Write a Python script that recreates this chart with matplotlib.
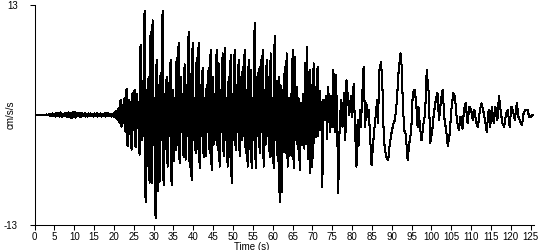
import numpy as np
import matplotlib
matplotlib.use("Agg")
import matplotlib.pyplot as plt

plt.rcParams['font.family'] = ['Liberation Sans', 'DejaVu Sans']

# acceleration trace
# part 1: turning points every 0.252 s from t = 0 (quiet part + strong shaking)
step_t = 0.252
acc_quiet = [0.03, -0.03, 0.04, -0.03, 0.03, -0.04, 0.03, -0.03, 0.04, -0.04, 0.05, -0.04, 0.06, -0.05, 0.08, -0.06,
             0.15, -0.12, 0.2, -0.1, 0.12, -0.18, 0.25, -0.15, 0.18, -0.2, 0.3, -0.22, 0.15, -0.12, 0.22, -0.18,
             0.2, -0.25, 0.3, -0.28, 0.25, -0.35, 0.3, -0.2, 0.35, -0.3, 0.25, -0.18, 0.2, -0.22, 0.28, -0.2,
             0.18, -0.15, 0.22, -0.2, 0.15, -0.18, 0.2, -0.12, 0.18, -0.15, 0.12, -0.18, 0.2, -0.15, 0.22, -0.2,
             0.15, -0.12, 0.2, -0.18, 0.12, -0.15, 0.18, -0.2, 0.25, -0.15, 0.2, -0.12, 0.15, -0.2, 0.18, -0.22,
             0.35, -0.3, 0.5, -0.6]
acc_strong = [0.8, -0.9, 1.8, -1.4, 1.2, -1.0, 2.0, -2.0, 3.1, -3.7, 1.8, -2.2, 1.5, -4.1, 2.6, -1.8,
              3.0, -3.8, 2.5, -1.6, 1.5, -4.7, 8.3, -3.0, 4.0, -2.5, 12.3, -10.3,
              3.0, -6.0, 4.5, -8.0, 9.8, -8.1, 11.2, -3.5, 2.0, -12.2, 6.5, -9.0, 3.5, -7.9, 5.0, -3.0,
              12.3, -8.3, 2.5, -4.0, 4.5, -6.1, 3.8, -2.5, 6.5, -8.3, 3.0, -5.5, 2.0, -4.2, 6.7, -3.5,
              8.5, -5.7, 4.5, -2.0, 2.5, -5.0, 6.0, -5.3, 3.5, -2.5, 9.8, -6.1, 4.8, -7.7, 8.5, -3.0,
              2.0, -4.5, 6.7, -4.0, 8.5, -6.3, 3.5, -2.5, 5.6, -5.0, 2.0, -4.9, 3.5, -2.0, 5.6, -4.5,
              7.7, -6.5, 4.5, -3.5, 2.5, -3.0, 7.7, -4.2, 6.1, -6.1, 3.0, -2.0, 7.3, -4.9, 7.9, -3.0,
              2.0, -6.1, 4.5, -5.0, 7.1, -8.1, 2.5, -3.0, 7.7, -4.2, 3.5, -2.0, 6.5, -4.9, 4.5, -3.0,
              5.7, -2.5, 7.7, -4.5, 3.0, -6.1, 6.5, -4.0, 5.3, -6.3, 2.0, -3.0, 10.9, -6.3, 4.5, -2.5,
              5.5, -4.5, 6.5, -2.0, 7.7, -6.1, 3.0, -3.5, 6.5, -2.5, 4.5, -5.0, 7.3, -4.9, 2.0, -6.3,
              9.4, -3.0, 4.0, -5.5, 4.5, -10.3, 3.5, -9.1, 3.0, -4.4, 5.7, -4.5, 7.3, -6.1, 2.0, -4.8,
              2.5, -4.9, 7.7, -6.3, 6.9, -3.0, 3.3, -4.0]

# part 2: coda, turning points with their times
coda_t = [66.5, 66.8, 67.1, 67.4, 67.7, 68.0, 68.2, 68.5, 68.7, 69.0, 69.3, 69.5, 69.8, 70.0, 70.3, 70.5,
          70.7, 71.0, 71.3, 71.5, 71.8, 72.0, 72.3, 72.5, 72.8, 73.1, 73.4, 73.7, 74.0, 74.4, 74.7, 75.0,
          75.3, 75.6, 75.9, 76.2, 76.5, 76.9, 77.3, 77.6, 78.0, 78.3, 78.6, 79.3, 79.7, 80.0, 80.4, 80.7,
          81.1, 81.4, 81.6, 82.0, 82.2, 82.9, 83.3, 83.6, 83.9, 84.2, 84.9, 85.5, 86.0, 86.3, 86.5, 86.9,
          87.3, 87.7, 88.0, 88.6, 89.1, 89.5, 89.9, 90.4, 90.8, 91.3, 91.7, 92.2, 92.5, 92.7, 93.1, 93.5,
          94.0, 94.4, 94.9, 95.3, 95.8, 96.2, 96.5, 96.7, 97.1, 97.5, 98.0, 98.4, 98.8, 99.3, 99.7, 100.2,
          100.6, 101.1, 101.5, 101.9, 102.4, 102.8, 103.3, 103.7, 104.1, 104.6, 105.0, 105.5, 105.9, 106.4,
          106.9, 107.3, 107.8, 108.2, 108.6, 109.1, 109.5, 110.0, 110.4, 110.8, 111.3, 111.7, 112.2, 112.6,
          113.0, 113.5, 113.9, 114.4, 114.8, 115.2, 115.7, 116.1, 116.6, 117.0, 117.5, 117.9, 118.3, 118.8,
          119.2, 119.7, 120.1, 120.5, 121.0, 121.5, 121.9, 122.4, 122.8, 123.2, 123.7, 124.2, 124.6, 125.0,
          125.4, 125.6]
coda_acc = [2.0, -6.5, 1.4, -3.5, 2.5, -4.0, 6.1, -3.4, 8.1, -5.2, 5.3, -6.9, 3.5, -6.1, 6.1, -3.3,
            3.3, -2.6, 5.7, -2.5, 2.9, -1.8, 1.5, -8.5, 1.8, -0.6, 2.2, -2.9, 3.3, -2.0, 2.2, -1.4,
            5.3, -2.0, 4.7, 0.5, -9.2, -0.6, 1.8, -1.4, 2.6, -3.0, 4.1, 0.0, 2.2, -0.2, 3.7, -1.0,
            -6.1, -0.6, -3.7, 0.6, -1.4, 5.7, -1.4, 1.4, -0.2, 0.6, -5.9, -2.2, 0.2, 1.8, -1.0, 5.3,
            6.3, 2.6, -3.0, -5.0, -5.3, -3.4, -2.2, -1.0, -0.6, 1.8, 5.0, 7.3, 5.7, 2.6, -1.8, -2.2,
            -5.3, -3.4, -1.8, 2.6, 3.0, 1.0, -1.4, 1.0, -1.4, -3.0, -1.0, 0.2, 5.3, 2.6, -3.3, -1.8,
            0.2, 1.8, 2.6, -0.6, 1.8, 3.0, -0.6, -1.8, -3.7, -2.2, 0.6, 2.6, 2.2, -0.6,
            -1.8, -0.2, -1.6, 0.6, 1.4, -1.0, 1.0, 0.6, -0.6, 0.6, -1.0, -1.4, 0.6, 1.4,
            0.6, -0.6, -2.0, 0.6, -1.4, 1.0, -1.0, 1.0, -0.6, 2.2, 0.2, -1.0, -1.4, 0.2,
            0.6, -1.4, 1.0, 0.6, -0.6, 1.4, -0.2, -0.8, -1.2, 0.2, 0.6, 0.6, -0.2, -0.2,
            0.0, 0.0]

x_ticks = list(range(0, 126, 5))

early = acc_quiet + acc_strong
t = np.concatenate([np.arange(len(early)) * step_t, coda_t])
acc = np.concatenate([early, coda_acc])

fig = plt.figure(figsize=(5.5, 2.5), dpi=100)
ax = fig.add_axes([34.5 / 550, 25 / 250, 499 / 550, 220 / 250])
ax.plot(t, acc, color='black', linewidth=0.75, antialiased=False)

ax.set_xlim(0, 125.7)
ax.set_ylim(-13, 13)
ax.set_xticks(x_ticks)
ax.set_xticklabels([str(v) for v in x_ticks])
ax.set_yticks([-13, 13])
ax.set_yticklabels(['-13', '13'])
ax.tick_params(axis='x', direction='out', length=3.6, width=0.75, pad=1.2, labelsize=7)
ax.tick_params(axis='y', direction='out', length=3.6, width=0.75, pad=8.5, labelsize=7)

for side in ['top', 'right']:
    ax.spines[side].set_visible(False)
for side in ['left', 'bottom']:
    ax.spines[side].set_linewidth(0.75)

ax.set_xlabel('Time (s)', fontsize=7)
ax.xaxis.set_label_coords((252 - 34.5) / 499, -0.075)
ax.set_ylabel('cm/s/s', fontsize=7)
ax.yaxis.set_label_coords(-0.037, 0.5)

fig.savefig('out.png', dpi=100)
